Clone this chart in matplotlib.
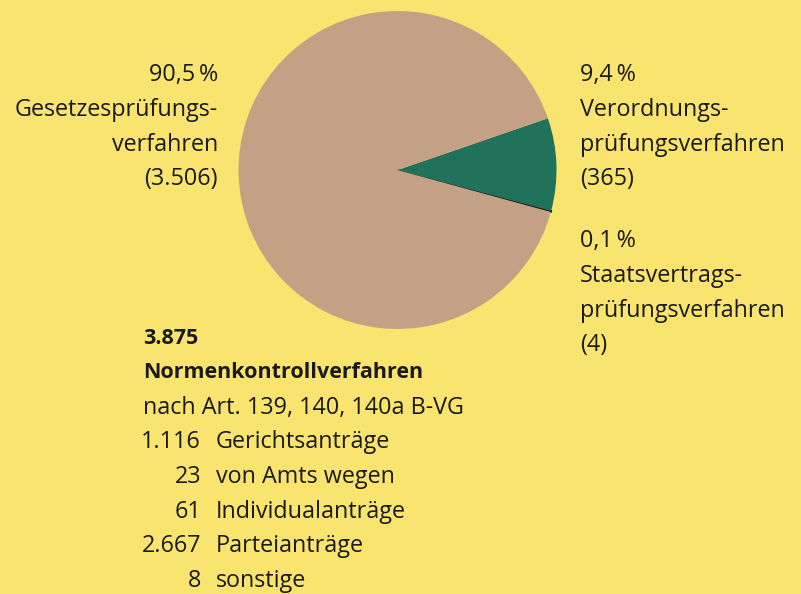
import matplotlib.pyplot as plt

# pie data
labels = ["Staatsvertragsprüfungsverfahren", "Verordnungsprüfungsverfahren", "Gesetzesprüfungsverfahren"]
counts = [4, 365, 3506]
colors = ["#111111", "#20725A", "#C4A085"]

# breakdown below the pie
total = "3.875"
sub_counts = ["1.116", "23", "61", "2.667", "8"]
sub_labels = ["Gerichtsanträge", "von Amts wegen", "Individualanträge", "Parteianträge", "sonstige"]

W, H = 801, 594
bg = "#F9E46F"
plt.rcParams['font.family'] = ['Open Sans', 'DejaVu Sans']

fig = plt.figure(figsize=(W / 100, H / 100), dpi=100, facecolor=bg)

# pie axes: center (397.5, 170) px, radius 159 px
cx, cy, r = 397.5, 170, 159
ax = fig.add_axes([(cx - r) / W, (H - cy - r) / H, 2 * r / W, 2 * r / H])
wedges, _ = ax.pie(counts, colors=colors, startangle=-15.3, counterclock=True, radius=1,
                   wedgeprops={"linewidth": 0})
wedges[0].set_edgecolor(colors[0])
wedges[0].set_linewidth(1.3)
ax.set_xlim(-1, 1)
ax.set_ylim(-1, 1)
ax.set_aspect("auto")
ax.axis("off")

def txt(x, y, s, ha="left", bold=False):
   fig.text(x / W, 1 - y / H, s, ha=ha, va="center", fontsize=15.5 if bold else 16.8,
            fontweight="bold" if bold else "normal", color="#1a1a1a")

step = 34.8
pct = [c / sum(counts) * 100 for c in counts]

def fmt(p):
   return ("%.1f" % p).replace(".", ",") + "\u2009%"

# left label (Gesetz)
left_lines = [fmt(pct[2]), "Gesetzesprüfungs-", "verfahren", "(3.506)"]
for i, s in enumerate(left_lines):
   txt(218, 75 + i * step, s, ha="right")

# right labels
right1 = [fmt(pct[1]), "Verordnungs-", "prüfungsverfahren", "(%d)" % counts[1]]
for i, s in enumerate(right1):
   txt(580, 75 + i * step, s)
right2 = [fmt(pct[0]), "Staatsvertrags-", "prüfungsverfahren", "(%d)" % counts[0]]
for i, s in enumerate(right2):
   txt(580, 241 + i * step, s)

# bottom block
txt(143, 338, total, bold=True)
txt(143, 373, "Normenkontrollverfahren", bold=True)
txt(143, 408, "nach Art. 139, 140, 140a B-VG")
for i in range(len(sub_counts)):
   y = 442 + i * step
   txt(201, y, sub_counts[i], ha="right")
   txt(216, y, sub_labels[i])

fig.savefig("out.png", dpi=100, facecolor=bg)
